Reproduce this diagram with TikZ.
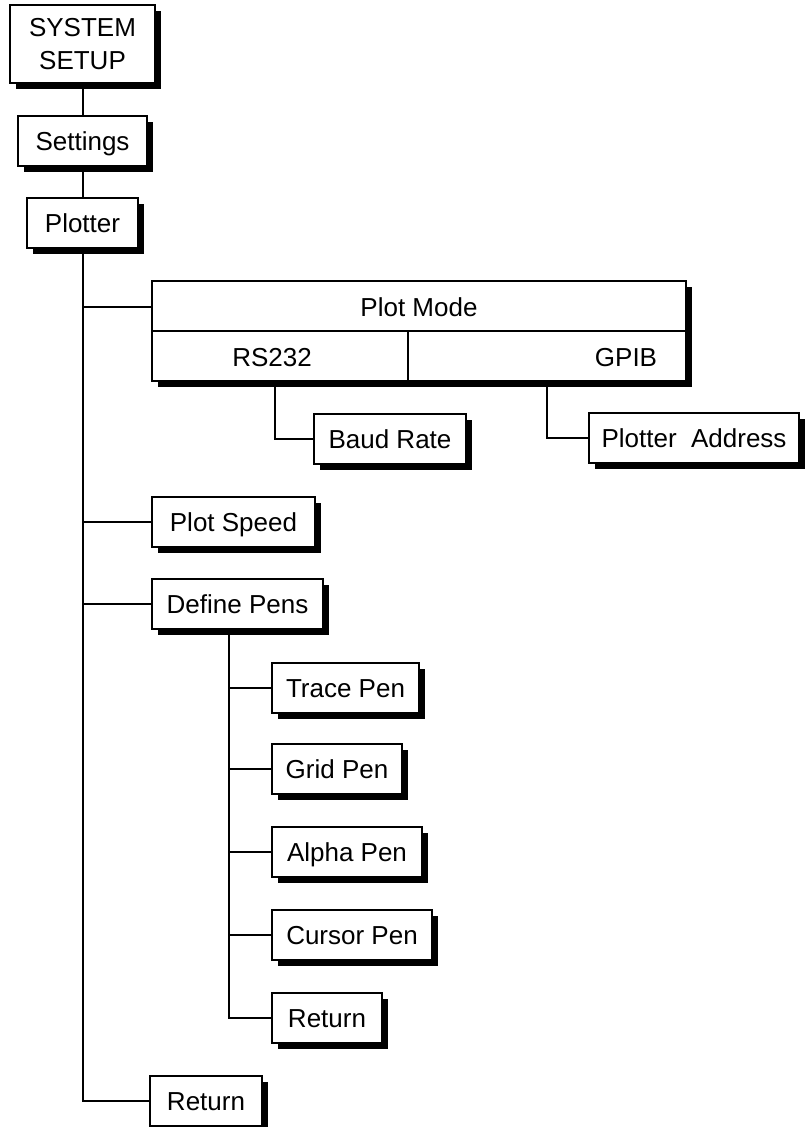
\documentclass[tikz,border=0pt]{standalone}
\usepackage{fontspec}
\setmainfont{Liberation Sans}
\usetikzlibrary{shadows}

\begin{document}
\begin{tikzpicture}[x=1pt, y=-1pt, line width=2pt,
  mbase/.style={draw, fill=white, inner sep=0pt, minimum height=50pt, align=center,
    font=\fontsize{26}{33}\selectfont,
    general shadow={fill=black, shadow xshift=6pt, shadow yshift=-6pt}},
  mbox/.style={mbase, text height=19pt, text depth=0pt},
  lbl/.style={inner sep=0pt, text height=19pt, text depth=0pt, font=\fontsize{26}{30}\selectfont}
]
  \useasboundingbox (0,0) rectangle (807,1127);

  \node[mbase, minimum width=145pt, minimum height=78pt] (sys) at (82.5,44) {SYSTEM\\SETUP};
  \node[mbox, minimum width=129pt] (settings) at (82.5,140.5) {Settings};
  \node[mbox, minimum width=111pt] (plotter) at (82.5,223) {Plotter};

  \node[mbase, minimum width=534pt, minimum height=100pt] (plotmode) at (419,331) {};
  \node[lbl] (pmtitle) at (419,307) {Plot Mode};
  \node[lbl] (rs232) at (272,357) {RS232};
  \node[lbl] (gpib) at (626,357) {GPIB};
  \coordinate (split) at (408,331);
  \draw (plotmode.west) -- (plotmode.east);
  \draw (split) -- (split |- plotmode.south);

  \node[mbox, minimum width=152pt] (baud) at (390,439) {Baud Rate};
  \node[mbox, minimum width=210pt] (addr) at (694,438) {Plotter~ Address};

  \node[mbox, minimum width=163pt] (speed) at (233.5,522) {Plot Speed};
  \node[mbox, minimum width=171pt] (pens) at (237.5,603.5) {Define Pens};

  \node[mbox, minimum width=147pt] (trace) at (345.5,687.5) {Trace Pen};
  \node[mbox, minimum width=130pt] (grid) at (337,769) {Grid Pen};
  \node[mbox, minimum width=150pt] (alpha) at (347,852) {Alpha Pen};
  \node[mbox, minimum width=160pt] (cursor) at (352,934.5) {Cursor Pen};
  \node[mbox, minimum width=110pt] (penret) at (327,1018) {Return};

  \node[mbox, minimum width=112pt] (ret) at (206,1100.5) {Return};

  \draw (sys.south) -- (settings.north);
  \draw (settings.south) -- (plotter.north);
  \draw (plotter.south) |- (ret.west);
  \draw (plotter.south |- pmtitle) -- (pmtitle -| plotmode.west);
  \draw (plotter.south |- speed) -- (speed.west);
  \draw (plotter.south |- pens) -- (pens.west);

  \draw (275,0 |- plotmode.south) |- (baud.west);
  \draw (547,0 |- plotmode.south) |- (addr.west);

  \coordinate (penstem) at (229,628);
  \draw (penstem) |- (penret.west);
  \foreach \p in {trace, grid, alpha, cursor}
    \draw (penstem |- \p) -- (\p.west);
\end{tikzpicture}
\end{document}
